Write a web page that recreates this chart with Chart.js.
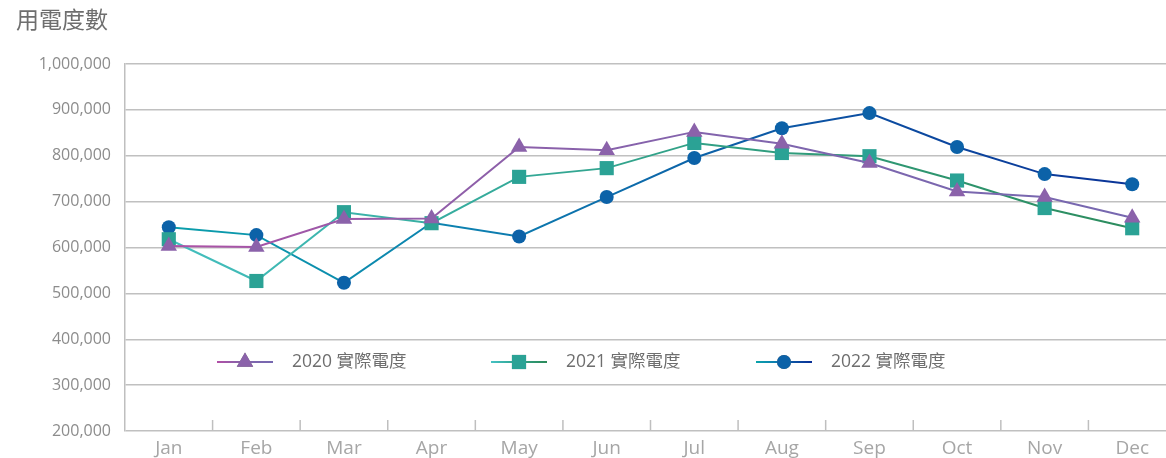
<!DOCTYPE html>
<html>
<head>
<meta charset="utf-8">
<script src="https://cdn.jsdelivr.net/npm/chart.js@4.4.1/dist/chart.umd.min.js"></script>
<style>
  html, body { margin: 0; padding: 0; background: #fff; overflow: hidden; }
  #wrap { width: 1190px; height: 458px; position: relative; }
</style>
</head>
<body>
<div id="wrap"><canvas id="chart"></canvas></div>
<script>
// monthly usage
const months = ['Jan', 'Feb', 'Mar', 'Apr', 'May', 'Jun', 'Jul', 'Aug', 'Sep', 'Oct', 'Nov', 'Dec'];
const usage2020 = [603000, 601000, 662000, 663000, 819000, 812000, 852000, 826000, 784000, 722000, 710000, 665000];
const usage2021 = [618000, 527000, 677000, 653000, 754000, 773000, 828000, 806000, 799000, 746000, 686000, 642000];
const usage2022 = [644000, 627000, 523000, 654000, 624000, 710000, 795000, 860000, 893000, 819000, 760000, 738000];
const seriesNames = ['2020 實際電度', '2021 實際電度', '2022 實際電度'];
const yTicks = { min: 200000, max: 1000000, step: 100000 };
const chartTitle = '用電度數';

const FONT = '"Open Sans", "Noto Sans CJK TC", sans-serif';

function hGradient(stops) {
    return (context) => {
        const area = context.chart.chartArea;
        if (!area) return stops[0];
        const g = context.chart.ctx.createLinearGradient(area.left, 0, area.right, 0);
        stops.forEach((c, i) => g.addColorStop(i / (stops.length - 1), c));
        return g;
    };
}

const lineStops = [
    ['#b24fa6', '#8e5fa9', '#7d66ae', '#7668b0'],
    ['#46c2c4', '#35ab9c', '#2f9a78', '#2c8a5a'],
    ['#0aa3aa', '#0d7fb0', '#0c52a3', '#0a2f96']
];

// title, x tick marks and in-plot legend
const decorations = {
    id: 'decorations',
    afterDraw(chart) {
        const ctx = chart.ctx;
        const area = chart.chartArea;
        const x = chart.scales.x;
        ctx.save();

        // tick marks on the x axis, pointing up, at category boundaries
        ctx.strokeStyle = '#bfbfbf';
        ctx.lineWidth = 1.5;
        for (let i = 1; i < months.length; i++) {
            const px = (x.getPixelForValue(i - 1) + x.getPixelForValue(i)) / 2;
            ctx.beginPath();
            ctx.moveTo(px, area.bottom - 11);
            ctx.lineTo(px, area.bottom);
            ctx.stroke();
        }

        ctx.fillStyle = '#6e6e6e';
        ctx.font = '23px ' + FONT;
        ctx.textBaseline = 'middle';
        ctx.textAlign = 'left';
        ctx.fillText(chartTitle, 16, 21);

        // legend row
        const legendY = 362;
        const starts = [217, 491, 756];
        chart.data.datasets.forEach((ds, i) => {
            const x0 = starts[i];
            const g = ctx.createLinearGradient(x0, 0, x0 + 56, 0);
            lineStops[i].forEach((c, k) => g.addColorStop(k / (lineStops[i].length - 1), c));
            ctx.strokeStyle = g;
            ctx.lineWidth = 2;
            ctx.beginPath();
            ctx.moveTo(x0, legendY);
            ctx.lineTo(x0 + 56, legendY);
            ctx.stroke();
            Chart.helpers.drawPoint(ctx, {
                pointStyle: ds.pointStyle,
                radius: ds.pointRadius,
                borderWidth: 0
            }, x0 + 28, legendY);
            ctx.fillStyle = ds.pointBackgroundColor;
            ctx.fill();
            ctx.fillStyle = '#6e6e6e';
            ctx.font = '17.5px ' + FONT;
            ctx.fillText(ds.label, x0 + 75, legendY);
        });
        ctx.restore();
    }
};

new Chart(document.getElementById('chart'), {
    type: 'line',
    data: {
        labels: months,
        datasets: [
            {
                label: seriesNames[0],
                data: usage2020,
                borderColor: hGradient(lineStops[0]),
                borderWidth: 2,
                pointStyle: 'triangle',
                pointRadius: 9.5,
                pointBackgroundColor: '#8b62aa',
                pointBorderWidth: 0
            },
            {
                label: seriesNames[1],
                data: usage2021,
                borderColor: hGradient(lineStops[1]),
                borderWidth: 2,
                pointStyle: 'rect',
                pointRadius: 10,
                pointBackgroundColor: '#2ba295',
                pointBorderWidth: 0
            },
            {
                label: seriesNames[2],
                data: usage2022,
                borderColor: hGradient(lineStops[2]),
                borderWidth: 2,
                pointStyle: 'circle',
                pointRadius: 7,
                pointBackgroundColor: '#0c62a8',
                pointBorderWidth: 0
            }
        ]
    },
    options: {
        responsive: true,
        maintainAspectRatio: false,
        animation: false,
        layout: { padding: { top: 64, right: 14, left: 0, bottom: 0 } },
        plugins: {
            legend: { display: false },
            title: { display: false },
            tooltip: { enabled: false }
        },
        scales: {
            x: {
                offset: true,
                grid: { display: false },
                border: { display: false },
                ticks: { color: '#a6a6a6', font: { family: FONT, size: 19 }, padding: -2 },
                afterFit: (s) => { s.height = 27; }
            },
            y: {
                min: yTicks.min,
                max: yTicks.max,
                grid: { color: '#c0c0c0', lineWidth: 1.5, drawTicks: false },
                border: { display: true, color: '#bfbfbf', width: 1.5 },
                ticks: {
                    stepSize: yTicks.step,
                    color: '#8c8c8c',
                    font: { family: FONT, size: 16 },
                    padding: 14,
                    callback: (v) => v.toLocaleString('en-US')
                },
                afterFit: (s) => { s.width = 125; }
            }
        }
    },
    plugins: [decorations]
});
</script>
</body>
</html>
